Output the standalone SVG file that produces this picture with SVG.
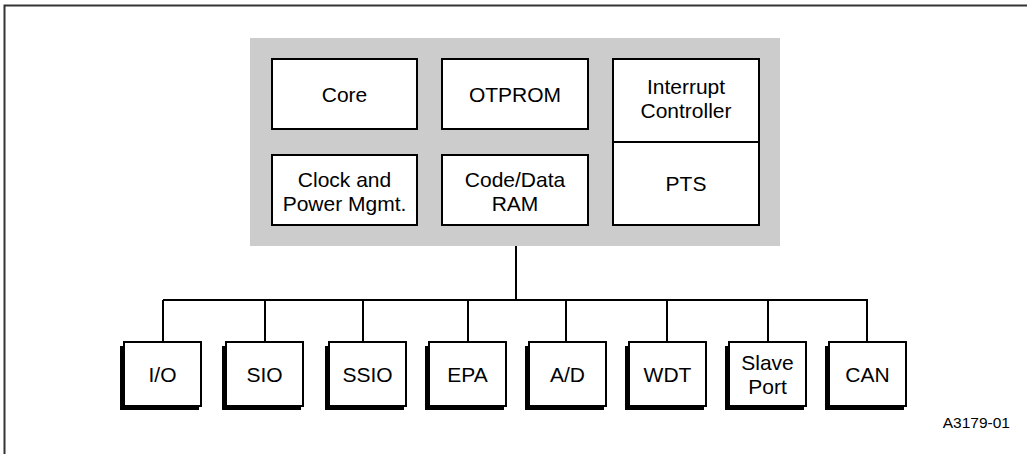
<svg xmlns="http://www.w3.org/2000/svg" width="1027" height="454" viewBox="0 0 1027 454">
<style>
.box{fill:#fff;stroke:#000;stroke-width:2}
.sh{fill:#000}
.t{font-family:"Liberation Sans",Arial,sans-serif;font-size:21px;fill:#000;text-anchor:middle}
.c{fill:none;stroke:#000;stroke-width:2}
</style>
<rect width="1027" height="454" fill="#fff"/>
<path d="M4.5 454V5.5H1027" fill="none" stroke="#333" stroke-width="2"/>
<rect x="250" y="38" width="530" height="208" fill="#cccccc"/>
<g id="core"><rect class="box" x="272" y="59" width="145" height="70"/><text class="t" x="344.5" y="102">Core</text></g>
<g id="otprom"><rect class="box" x="442" y="59" width="146" height="70"/><text class="t" x="515" y="102">OTPROM</text></g>
<g id="clock"><rect class="box" x="272" y="155" width="145" height="70"/><text class="t" x="344.5" y="187">Clock and</text><text class="t" x="344.5" y="211">Power Mgmt.</text></g>
<g id="coderam"><rect class="box" x="442" y="155" width="146" height="70"/><text class="t" x="515" y="187">Code/Data</text><text class="t" x="515" y="211">RAM</text></g>
<g id="interrupt"><rect class="box" x="613" y="59" width="146" height="83"/><text class="t" x="686" y="94">Interrupt</text><text class="t" x="686" y="118">Controller</text></g>
<g id="pts"><rect class="box" x="613" y="142" width="146" height="83"/><text class="t" x="686" y="191">PTS</text></g>
<g id="connectors">
<path class="c" d="M516 246V300M163 300H868M163 300V342M265 300V342M363 300V342M468 300V342M566 300V342M667 300V342M768 300V342M867 300V342"/>
</g>
<g id="io"><rect class="sh" x="120" y="346" width="79" height="64"/><rect class="box" x="124" y="342" width="77" height="64"/><text class="t" x="162.5" y="382">I/O</text></g>
<g id="sio"><rect class="sh" x="222" y="346" width="79" height="64"/><rect class="box" x="226" y="342" width="77" height="64"/><text class="t" x="264.5" y="382">SIO</text></g>
<g id="ssio"><rect class="sh" x="325" y="346" width="79" height="64"/><rect class="box" x="329" y="342" width="77" height="64"/><text class="t" x="367.5" y="382">SSIO</text></g>
<g id="epa"><rect class="sh" x="425" y="346" width="79" height="64"/><rect class="box" x="429" y="342" width="77" height="64"/><text class="t" x="467.5" y="382">EPA</text></g>
<g id="ad"><rect class="sh" x="525" y="346" width="79" height="64"/><rect class="box" x="529" y="342" width="77" height="64"/><text class="t" x="567.5" y="382">A/D</text></g>
<g id="wdt"><rect class="sh" x="625" y="346" width="79" height="64"/><rect class="box" x="629" y="342" width="77" height="64"/><text class="t" x="667.5" y="382">WDT</text></g>
<g id="slave"><rect class="sh" x="725" y="346" width="79" height="64"/><rect class="box" x="729" y="342" width="77" height="64"/><text class="t" x="767.5" y="370">Slave</text><text class="t" x="767.5" y="394">Port</text></g>
<g id="can"><rect class="sh" x="825" y="346" width="79" height="64"/><rect class="box" x="829" y="342" width="77" height="64"/><text class="t" x="867.5" y="382">CAN</text></g>
<text x="1010" y="428" font-family="'Liberation Sans',Arial,sans-serif" font-size="15.5" text-anchor="end">A3179-01</text>
</svg>
